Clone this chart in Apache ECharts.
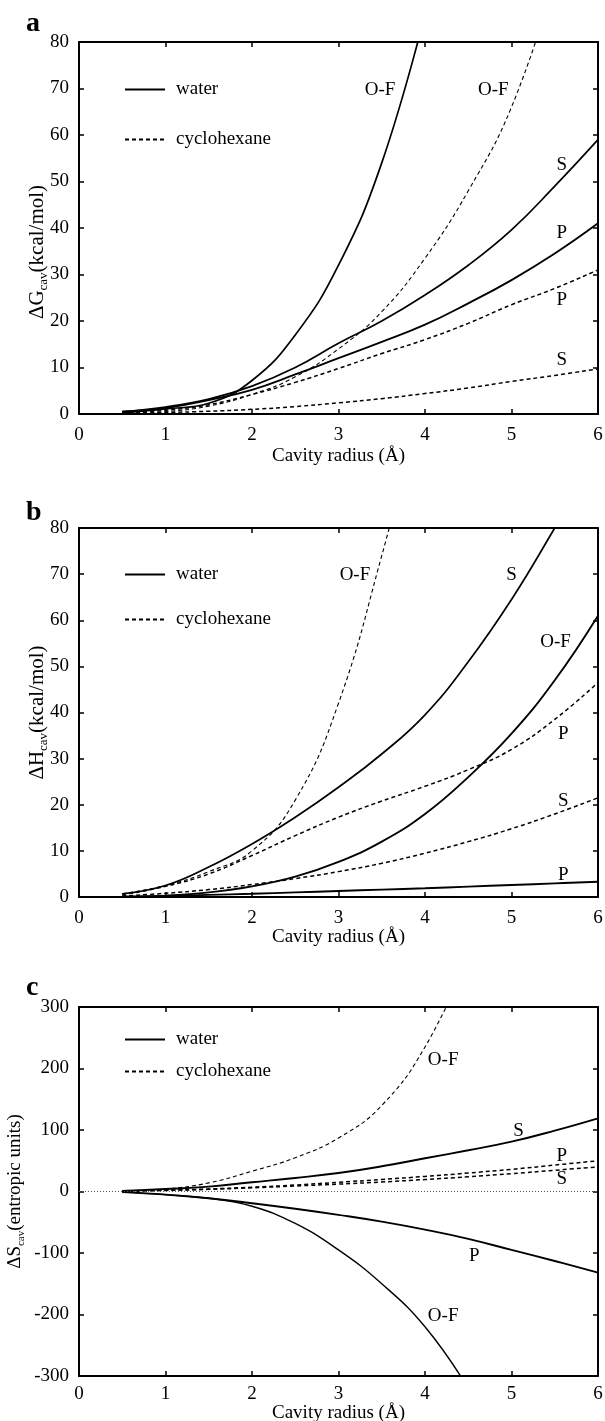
<!DOCTYPE html>
<html>
<head>
<meta charset="utf-8">
<script src="https://cdn.jsdelivr.net/npm/echarts@6/dist/echarts.min.js"></script>
<style>
html, body { margin: 0; padding: 0; background: #fff; }
#chart { width: 605px; height: 1421px; }
</style>
</head>
<body>
<div id="chart"></div>
<script>
// cavity radius (Å)
const radius = [0.5, 1, 1.5, 2, 2.5, 3, 3.5, 4, 4.5, 5, 5.5, 6];
const xTicks = [0, 1, 2, 3, 4, 5, 6];

// panel a: ΔG cav (kcal/mol)
const gWaterOF = [0.3, 1.1, 2.3, 7.2, 17, 32, 54, 86];
const gWaterS = [0.5, 1.5, 3.2, 6, 10, 15.2, 20, 25.6, 32, 39.6, 49, 59];
const gWaterP = [0.5, 1.3, 3, 5.2, 8.5, 12, 15.5, 19.2, 23.8, 28.8, 34.5, 41];
const gCycOF = [0.05, 0.5, 1.7, 4.2, 8, 14, 22, 33.5, 48, 66, 93];
const gCycP = [0.2, 0.8, 2, 4.2, 6.8, 9.8, 13, 16, 19.5, 23.5, 27, 31];
const gCycS = [0.05, 0.3, 0.6, 1, 1.6, 2.4, 3.3, 4.4, 5.6, 7, 8.3, 9.7];

// panel b: ΔH cav (kcal/mol)
const hWaterS = [0.7, 2.5, 6.5, 11.5, 17.3, 23.8, 31, 39.5, 51, 64.5, 80, 96];
const hWaterOF = [0.05, 0.3, 1, 2.3, 4.4, 7.6, 12, 18, 26, 35.4, 47, 61];
const hWaterP = [0.05, 0.2, 0.45, 0.7, 1, 1.3, 1.6, 1.9, 2.25, 2.6, 2.95, 3.3];
const hCycOF = [0.7, 2.5, 5.5, 10, 21, 42, 74, 110];
const hCycP = [0.5, 2.3, 5, 9, 13.3, 17.3, 20.8, 24, 27.6, 32, 38.5, 46.5];
const hCycS = [0.2, 0.8, 1.6, 2.7, 4, 5.5, 7.3, 9.5, 12, 14.8, 18, 21.5];

// panel c: ΔS cav (entropic units)
const sWaterS = [1, 4, 8, 15, 22, 30, 41, 54, 67, 81, 99, 119];
const sWaterP = [-1, -5, -11, -19, -28, -38, -49, -62, -77, -95, -113, -132];
const sWaterOF = [-1, -5, -11, -24, -52, -95, -150, -220, -320];
const sCycOF = [0.5, 4, 14, 33, 55, 87, 140, 235, 380];
const sCycP = [0.5, 2, 4, 7, 10.5, 15, 19.5, 24.5, 30, 36, 43, 50];
const sCycS = [0.5, 1.8, 3.5, 6, 9, 12, 15.5, 19.5, 24, 29, 34.5, 40];

// curve labels: [radius, value, text]
const labelsA = [[3.48, 69.6, 'O-F'], [4.79, 69.6, 'O-F'], [5.58, 53.5, 'S'], [5.58, 38.9, 'P'], [5.58, 24.5, 'P'], [5.58, 11.7, 'S']];
const labelsB = [[3.19, 69.7, 'O-F'], [5.0, 69.7, 'S'], [5.51, 55.2, 'O-F'], [5.6, 35.4, 'P'], [5.6, 20.9, 'S'], [5.6, 4.7, 'P']];
const labelsC = [[4.21, 214, 'O-F'], [5.08, 98, 'S'], [5.58, 58, 'P'], [5.58, 20, 'S'], [4.57, -105, 'P'], [4.21, -203, 'O-F']];

const FONT = 'Liberation Serif, DejaVu Serif, serif';
const chart = echarts.init(document.getElementById('chart'));

const grids = [
  { left: 79, top: 42, width: 519, height: 372, outerBoundsMode: 'none', containLabel: false },
  { left: 79, top: 528, width: 519, height: 369, outerBoundsMode: 'none', containLabel: false },
  { left: 79, top: 1007, width: 519, height: 369, outerBoundsMode: 'none', containLabel: false }
];
const yRanges = [[0, 80, 10], [0, 80, 10], [-300, 300, 100]];
const yNames = [
  '{m|ΔG}{s|cav}{m|(kcal/mol)}',
  '{m|ΔH}{s|cav}{m|(kcal/mol)}',
  '{m|ΔS}{s|cav}{m|(entropic units)}'
];
const yNameSizes = [21, 21, 19];
const yNameGaps = [29, 29, 52];
const yNameShift = [48, 0, 0];
const xNameGaps = [33, 31, 28];
const xLabelMargins = [12, 12, 9];

const xAxes = [];
const yAxes = [];
grids.forEach((g, i) => {
  const tick = { show: true, inside: true, length: 5, lineStyle: { color: '#000', width: 1.5 } };
  const line = { show: true, onZero: false, lineStyle: { color: '#000', width: 2 } };
  xAxes.push({
    gridIndex: i, type: 'value', min: 0, max: 6, interval: 1,
    axisLine: line, axisTick: tick, splitLine: { show: false },
    axisLabel: { color: '#000', fontFamily: FONT, fontSize: 19, margin: xLabelMargins[i] },
    name: 'Cavity radius (Å)', nameLocation: 'middle', nameGap: xNameGaps[i], nameMoveOverlap: false,
    nameTextStyle: { color: '#000', fontFamily: FONT, fontSize: 19 }
  });
  xAxes.push({
    gridIndex: i, type: 'value', position: 'top', min: 0, max: 6, interval: 1,
    axisLine: line, axisTick: tick, axisLabel: { show: false }, splitLine: { show: false }
  });
  const [lo, hi, step] = yRanges[i];
  const fs = yNameSizes[i];
  yAxes.push({
    gridIndex: i, type: 'value', min: lo, max: hi, interval: step,
    axisLine: line, axisTick: tick, splitLine: { show: false },
    axisLabel: { color: '#000', fontFamily: FONT, fontSize: 19, margin: 10 },
    name: yNames[i], nameLocation: 'middle', nameGap: yNameGaps[i], nameMoveOverlap: false,
    nameTextStyle: {
      padding: [0, yNameShift[i], 0, 0],
      rich: {
        m: { color: '#000', fontFamily: FONT, fontSize: fs },
        s: { color: '#000', fontFamily: FONT, fontSize: Math.round(fs * 0.6), verticalAlign: 'bottom', lineHeight: fs + 5 }
      }
    }
  });
  yAxes.push({
    gridIndex: i, type: 'value', position: 'right', min: lo, max: hi, interval: step,
    axisLine: line, axisTick: tick, axisLabel: { show: false }, splitLine: { show: false }
  });
});

function curve(name, gi, ys, dashed, width) {
  return {
    type: 'line', name: name, xAxisIndex: gi * 2, yAxisIndex: gi * 2,
    data: ys.map((v, k) => [radius[k], v]),
    smooth: 0.45, symbol: 'none', silent: true, clip: true,
    itemStyle: { color: '#000' },
    lineStyle: { color: '#000', width: width, type: dashed ? [4, 3] : 'solid' }
  };
}

function labels(gi, list) {
  return {
    type: 'scatter', xAxisIndex: gi * 2, yAxisIndex: gi * 2, symbolSize: 0, silent: true,
    itemStyle: { opacity: 1, color: '#000' },
    data: list.map(d => ({ value: [d[0], d[1]], name: d[2] })),
    label: { show: true, position: 'inside', formatter: '{b}', color: '#000', fontFamily: FONT, fontSize: 19 }
  };
}

const series = [
  curve('water', 0, gWaterOF, false, 1.7),
  curve('water', 0, gWaterS, false, 1.7),
  curve('water', 0, gWaterP, false, 1.9),
  curve('cyclohexane', 0, gCycOF, true, 1.1),
  curve('cyclohexane', 0, gCycP, true, 1.5),
  curve('cyclohexane', 0, gCycS, true, 1.5),
  labels(0, labelsA),

  curve('water', 1, hWaterS, false, 1.7),
  curve('water', 1, hWaterOF, false, 1.9),
  curve('water', 1, hWaterP, false, 1.9),
  curve('cyclohexane', 1, hCycOF, true, 1.1),
  curve('cyclohexane', 1, hCycP, true, 1.5),
  curve('cyclohexane', 1, hCycS, true, 1.5),
  labels(1, labelsB),

  curve('water', 2, sWaterS, false, 1.9),
  curve('water', 2, sWaterP, false, 1.9),
  curve('water', 2, sWaterOF, false, 1.4),
  curve('cyclohexane', 2, sCycOF, true, 1.1),
  curve('cyclohexane', 2, sCycP, true, 1.5),
  curve('cyclohexane', 2, sCycS, true, 1.5),
  labels(2, labelsC),
  {
    type: 'line', xAxisIndex: 4, yAxisIndex: 4, data: [[0, 0], [6, 0]], symbol: 'none', silent: true,
    lineStyle: { color: '#555', width: 1, type: [1, 2] }
  }
];

const legendTops = [80, 565, 1030];
const legendGaps = [31, 26, 13];
const legends = legendTops.map((t, i) => ({
  data: ['water', 'cyclohexane'], orient: 'vertical', left: 124, top: t, padding: 0,
  itemWidth: 40, itemHeight: 12, itemGap: legendGaps[i], selectedMode: false,
  itemStyle: { opacity: 0 },
  textStyle: { color: '#000', fontFamily: FONT, fontSize: 19, padding: [0, 0, 0, 6] }
}));

const panelLetters = [['a', 26], ['b', 515], ['c', 990]];

chart.setOption({
  animation: false,
  backgroundColor: '#fff',
  grid: grids,
  xAxis: xAxes,
  yAxis: yAxes,
  legend: legends,
  series: series,
  graphic: panelLetters.map(p => ({
    type: 'text', left: 26, top: p[1] - 16,
    style: { text: p[0], fill: '#000', font: 'bold 28px ' + FONT }
  }))
});
</script>
</body>
</html>
